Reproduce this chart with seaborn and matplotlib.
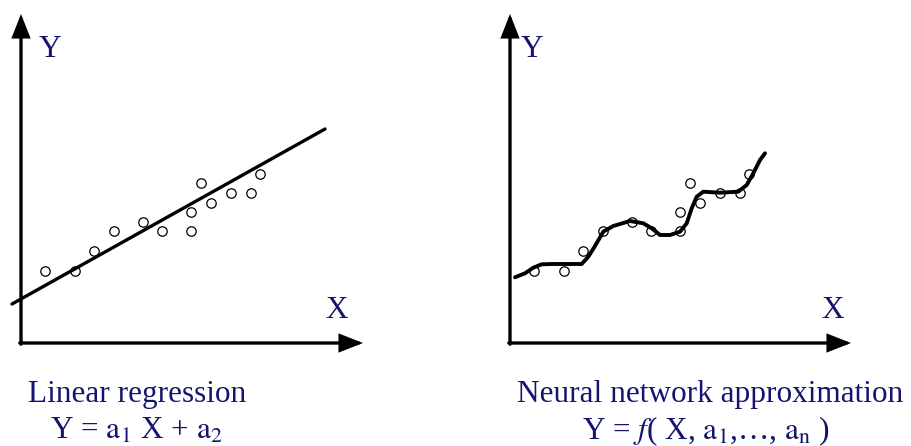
import seaborn as sns
import matplotlib.pyplot as plt

# observed points (units: 10 px from the axes origin), same set in both panels
obs_x = [2.4, 5.4, 7.3, 9.3, 12.2, 14.1, 17.0, 17.0, 18.0, 19.0, 21.0, 23.0, 23.9]
obs_y = [7.2, 7.2, 9.2, 11.2, 12.1, 11.2, 13.1, 11.2, 16.0, 14.0, 15.0, 15.0, 16.9]

# linear regression line
line_x = [-0.9, 30.4]
line_y = [3.9, 21.4]

# neural network approximation curve
curve_x = [0.5, 1.5, 2.33, 3.17, 4.33, 7.17, 7.83, 8.5, 9.33, 10.33, 12.0, 13.33,
           14.17, 15.0, 16.0, 17.0, 17.67, 18.17, 18.67, 19.33, 21.0, 22.83,
           23.67, 24.33, 25.0, 25.5]
curve_y = [6.57, 6.97, 7.53, 7.87, 7.9, 7.9, 8.63, 9.7, 11.13, 11.7, 12.2, 11.97,
           11.47, 10.8, 10.8, 11.13, 11.97, 13.47, 14.63, 15.13, 15.03, 15.13,
           15.8, 16.97, 18.3, 18.97]

# texts
titles = ['Linear regression', 'Neural network approximation']
formulas = [r'Y = $\mathrm{a}_1$ X + $\mathrm{a}_2$',
            r'Y = $f$( X, $\mathrm{a}_1$,…, $\mathrm{a}_\mathrm{n}$ )']

NAVY = '#14146e'
FS = 22.5

sns.set_theme(style='white')
plt.rcParams['font.family'] = ['Liberation Serif', 'DejaVu Serif']
plt.rcParams['mathtext.fontset'] = 'stix'


def draw_axes(ax, x_end, y_end):
    kw = dict(arrowstyle='-|>,head_length=0.66,head_width=0.26', color='black',
              lw=2.4, shrinkA=0, shrinkB=0, mutation_scale=20, joinstyle='miter')
    ax.annotate('', xy=(x_end, 0), xytext=(-0.12, 0), arrowprops=kw)
    ax.annotate('', xy=(0, y_end), xytext=(0, -0.12), arrowprops=kw)


fig = plt.figure(figsize=(9.12, 4.46), dpi=100)
ax1 = fig.add_axes([0, 0, 450 / 912, 1])
ax2 = fig.add_axes([460 / 912, 0, 452 / 912, 1])
ax1.set_xlim(-2.1, 42.9)
ax2.set_xlim(-5.0, 40.2)

for ax in (ax1, ax2):
    ax.set_ylim(-10.3, 34.3)
    ax.set_axis_off()
    sns.scatterplot(x=obs_x, y=obs_y, ax=ax, s=46, facecolor='white',
                    edgecolor='black', linewidth=0.9, zorder=2)

sns.lineplot(x=line_x, y=line_y, ax=ax1, color='black', lw=2.4, zorder=3)
sns.lineplot(x=curve_x, y=curve_y, ax=ax2, color='black', lw=2.8, sort=False,
             solid_joinstyle='round', solid_capstyle='round', zorder=3)

draw_axes(ax1, 34.2, 32.9)
draw_axes(ax2, 34.1, 32.9)

# axis letters
ax1.text(2.9, 28.6, 'Y', ha='center', va='baseline', fontsize=FS, color=NAVY)
ax1.text(31.6, 2.5, 'X', ha='center', va='baseline', fontsize=FS, color=NAVY)
ax2.text(2.2, 28.6, 'Y', ha='center', va='baseline', fontsize=FS, color=NAVY)
ax2.text(32.3, 2.5, 'X', ha='center', va='baseline', fontsize=FS, color=NAVY)

# captions
fig.text(0.150, 0.0987, titles[0], ha='center', va='baseline', fontsize=FS, color=NAVY)
fig.text(0.150, 0.0157, formulas[0], ha='center', va='baseline', fontsize=FS, color=NAVY)
fig.text(0.779, 0.0987, titles[1], ha='center', va='baseline', fontsize=FS, color=NAVY)
fig.text(0.774, 0.0157, formulas[1], ha='center', va='baseline', fontsize=FS, color=NAVY)

fig.savefig('out.png', dpi=100, facecolor='white')
